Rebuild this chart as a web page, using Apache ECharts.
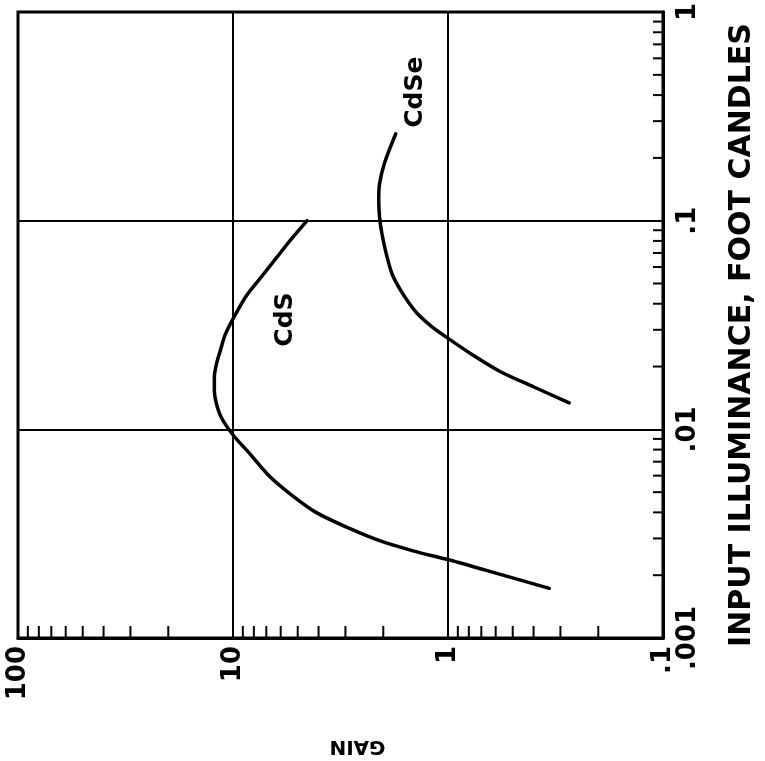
<!DOCTYPE html>
<html>
<head>
<meta charset="utf-8">
<script src="https://cdn.jsdelivr.net/npm/echarts@6/dist/echarts.min.js"></script>
<style>
html,body{margin:0;padding:0;background:#fff;}
#chart{width:765px;height:761px;}
</style>
</head>
<body>
<div id="chart"></div>
<script>
// Gain axis (horizontal, decreasing to the right)
var gainTickValues = [100, 10, 1, 0.1];
var gainTickLabels = ["100", "10", "1", ".1"];
var gainMinorTicks = [0.2,0.3,0.4,0.5,0.6,0.7,0.8,0.9, 2,3,4,5,6,7,8,9, 20,30,40,50,60,70,80,90];
// Illuminance axis (vertical, right side)
var illumTickValues = [0.001, 0.01, 0.1, 1];
var illumTickLabels = [".001", ".01", ".1", "1"];
var illumMinorTicks = [0.002,0.003,0.004,0.005,0.006,0.007,0.008,0.009, 0.02,0.03,0.04,0.05,0.06,0.07,0.08,0.09, 0.2,0.3,0.4,0.5,0.6,0.7,0.8,0.9];

// CdS curve
var cdsGain  = [4.52, 5.37, 6.30, 7.39, 8.68, 9.97, 10.86, 11.45, 11.95, 12.21, 12.21, 11.95, 11.33, 9.97, 8.40, 6.86, 5.37, 4.11, 2.89, 2.05, 1.44, 0.994, 0.582, 0.338];
var cdsIllum = [0.100, 0.0813, 0.0661, 0.0537, 0.0436, 0.0340, 0.0285, 0.0239, 0.0205, 0.0178, 0.0153, 0.0133, 0.0114, 0.00937, 0.00769, 0.00605, 0.00487, 0.00400, 0.00336, 0.00291, 0.00261, 0.00237, 0.00203, 0.00173];
// CdSe curve
var cdseGain  = [1.75, 1.97, 2.08, 2.10, 2.08, 2.03, 1.93, 1.81, 1.61, 1.40, 1.19, 0.983, 0.761, 0.576, 0.401, 0.273];
var cdseIllum = [0.261, 0.190, 0.151, 0.126, 0.1033, 0.0868, 0.0683, 0.0548, 0.0441, 0.0362, 0.0311, 0.0270, 0.0226, 0.0190, 0.0160, 0.0134];

// Curve labels
var curveNames = ["CdS", "CdSe"];
var curveLabelGain = [5.71, 1.41];
var curveLabelIllum = [0.0336, 0.413];

var FONT = "'DejaVu Sans', 'Liberation Sans', sans-serif";

function pairs(xs, ys){ return xs.map(function(x,i){ return [x, ys[i]]; }); }
function lookup(vals, labels, v){
  for (var i=0;i<vals.length;i++){ if (Math.abs(Math.log10(vals[i]) - Math.log10(v)) < 1e-6) return labels[i]; }
  return '';
}

var chart = echarts.init(document.getElementById('chart'), null, {renderer:'canvas'});
var option = {
  animation: false,
  backgroundColor: '#fff',
  grid: {left: 18, right: 100, top: 12, bottom: 110, show: true, borderColor: '#000', borderWidth: 3, backgroundColor: 'transparent'},
  xAxis: {
    type: 'log', min: 0.1, max: 100, inverse: true, position: 'bottom',
    name: 'GAIN', nameLocation: 'middle', nameRotate: 180, nameGap: 98,
    nameTextStyle: {fontFamily: FONT, fontWeight: 'bold', fontSize: 20, color: '#000', padding: [0, 34, 0, 0]},
    axisLine: {show: true, lineStyle: {color: '#000', width: 3}},
    axisTick: {show: false},
    splitLine: {show: true, lineStyle: {color: '#000', width: 2}},
    axisLabel: {
      rotate: 90, margin: 8, color: '#000', fontFamily: FONT, fontWeight: 'bold', fontSize: 26,
      formatter: function(v){ return lookup(gainTickValues, gainTickLabels, v); }
    }
  },
  yAxis: {
    type: 'log', min: 0.001, max: 1, position: 'right',
    name: 'INPUT ILLUMINANCE, FOOT CANDLES', nameLocation: 'middle', nameRotate: 90, nameGap: 64,
    nameTextStyle: {fontFamily: FONT, fontWeight: 'bold', fontSize: 30, color: '#000', padding: [0, 20, 0, 0]},
    axisLine: {show: true, lineStyle: {color: '#000', width: 3}},
    axisTick: {show: false},
    splitLine: {show: true, lineStyle: {color: '#000', width: 2}},
    axisLabel: {
      rotate: 90, margin: 12, color: '#000', fontFamily: FONT, fontWeight: 'bold', fontSize: 26,
      formatter: function(v){ return lookup(illumTickValues, illumTickLabels, v); }
    }
  },
  series: [
    {
      name: 'CdS', type: 'line', data: pairs(cdsGain, cdsIllum), smooth: 0.3,
      showSymbol: false, lineStyle: {color: '#000', width: 3.5, cap: 'round', join: 'round'}, silent: true
    },
    {
      name: 'CdSe', type: 'line', data: pairs(cdseGain, cdseIllum), smooth: 0.3,
      showSymbol: false, lineStyle: {color: '#000', width: 3.5, cap: 'round', join: 'round'}, silent: true
    },
    {
      name: 'gainMinor', type: 'custom', clip: false, silent: true,
      data: gainMinorTicks.map(function(v){ return [v, 0.001]; }),
      renderItem: function(params, api){
        var p = api.coord([api.value(0), api.value(1)]);
        return {type: 'line', shape: {x1: p[0], y1: p[1], x2: p[0], y2: p[1] - 12}, style: {stroke: '#000', lineWidth: 2}};
      }
    },
    {
      name: 'illumMinor', type: 'custom', clip: false, silent: true,
      data: illumMinorTicks.map(function(v){ return [0.1, v]; }),
      renderItem: function(params, api){
        var p = api.coord([api.value(0), api.value(1)]);
        return {type: 'line', shape: {x1: p[0], y1: p[1], x2: p[0] - 10, y2: p[1]}, style: {stroke: '#000', lineWidth: 2}};
      }
    },
    {
      name: 'labels', type: 'scatter', symbolSize: 0, silent: true,
      itemStyle: {opacity: 1},
      data: curveNames.map(function(n, i){ return {name: n, value: [curveLabelGain[i], curveLabelIllum[i]]}; }),
      label: {
        show: true, position: 'inside', rotate: 90, color: '#000', opacity: 1, textBorderWidth: 0,
        fontFamily: FONT, fontWeight: 'bold', fontSize: 25,
        formatter: function(p){ return p.name; }
      }
    }
  ]
};
chart.setOption(option);
</script>
</body>
</html>
